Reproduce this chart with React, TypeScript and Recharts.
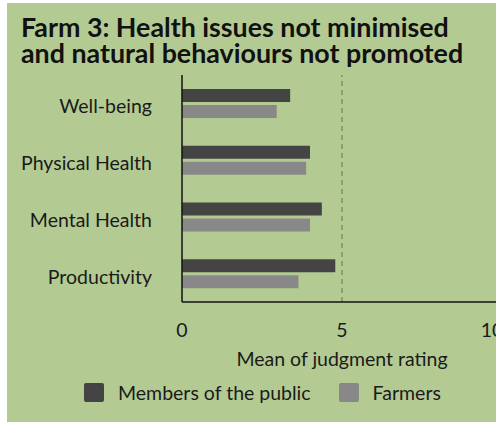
import { Bar, BarChart, Legend, ReferenceLine, XAxis, YAxis } from "recharts";

const CATEGORIES = ["Well-being", "Physical Health", "Mental Health", "Productivity"];
const PUBLIC_RATINGS = [3.38, 4.0, 4.37, 4.79];
const FARMER_RATINGS = [2.96, 3.88, 4.0, 3.64];
const X_TICKS = [0, 5, 10];

const BG = "#b3cb93";
const DARK = "#444444";
const GREY = "#888888";
const FONT = "Lato, 'Noto Sans', sans-serif";
const TEXT = "#1a1a1a";

const data = CATEGORIES.map((c, i) => ({
  category: c,
  public: PUBLIC_RATINGS[i],
  farmers: FARMER_RATINGS[i],
}));

function LegendBox() {
  const items = [
    { label: "Members of the public", color: DARK },
    { label: "Farmers", color: GREY },
  ];
  return (
    <div style={{ display: "flex", height: 24, alignItems: "center", fontFamily: FONT, fontSize: 19.5, color: TEXT, paddingLeft: 77 }}>
      {items.map((it, i) => (
        <div key={it.label} style={{ display: "flex", alignItems: "center", marginLeft: i ? 28 : 0 }}>
          <span style={{ width: 20, height: 19, background: it.color, borderRadius: 2, marginRight: 14 }} />
          <span>{it.label}</span>
        </div>
      ))}
    </div>
  );
}

// the last tick label sits pulled in from the edge in the original
function XTick(props: any) {
  const { x, y, payload } = props;
  const last = payload.value === X_TICKS[X_TICKS.length - 1];
  return (
    <text x={x + (last ? -10 : 0)} y={y} dy="0.75em" textAnchor="middle" fontSize={19.5} fill={TEXT} fontFamily={FONT}>
      {payload.value}
    </text>
  );
}

export default function App() {
  return (
    <div style={{ position: "absolute", left: 0, top: 0, width: 496, height: 422, overflow: "hidden" }}>
      <div style={{ position: "absolute", left: 7, top: 3, width: 500, height: 419, background: BG }}>
        <div
          style={{
            position: "absolute",
            left: 14,
            top: 12,
            fontFamily: FONT,
            fontWeight: 700,
            fontSize: 26.8,
            lineHeight: "25.5px",
            color: "#111",
            whiteSpace: "nowrap",
          }}
        >
          Farm 3: Health issues not minimised
          <br />
          and natural behaviours not promoted
        </div>
        <BarChart
          width={520}
          height={419}
          data={data}
          layout="vertical"
          barSize={13}
          barGap={3}
          margin={{ top: 72, right: 25, left: 0, bottom: 18 }}
          style={{ position: "absolute", left: 0, top: 0 }}
        >
          <XAxis
            type="number"
            domain={[0, 10]}
            ticks={X_TICKS}
            height={78}
            tickLine={false}
            tickMargin={14}
            axisLine={{ stroke: "#111", strokeWidth: 1.5 }}
            tick={<XTick />}
            label={{ value: "Mean of judgment rating", position: "insideBottom", offset: 14, fontSize: 19.5, fill: TEXT, fontFamily: FONT }}
          />
          <YAxis
            type="category"
            dataKey="category"
            width={175}
            tickLine={false}
            tickMargin={24}
            axisLine={{ stroke: "#111", strokeWidth: 1.5 }}
            tick={{ fontSize: 19.5, fill: TEXT, fontFamily: FONT, dy: 3 }}
          />
          <ReferenceLine x={5} stroke="#7a9267" strokeWidth={1.5} strokeDasharray="5 4" />
          <Bar dataKey="public" name="Members of the public" fill={DARK} isAnimationActive={false} />
          <Bar dataKey="farmers" name="Farmers" fill={GREY} isAnimationActive={false} />
          <Legend verticalAlign="bottom" content={() => <LegendBox />} />
        </BarChart>
      </div>
    </div>
  );
}
